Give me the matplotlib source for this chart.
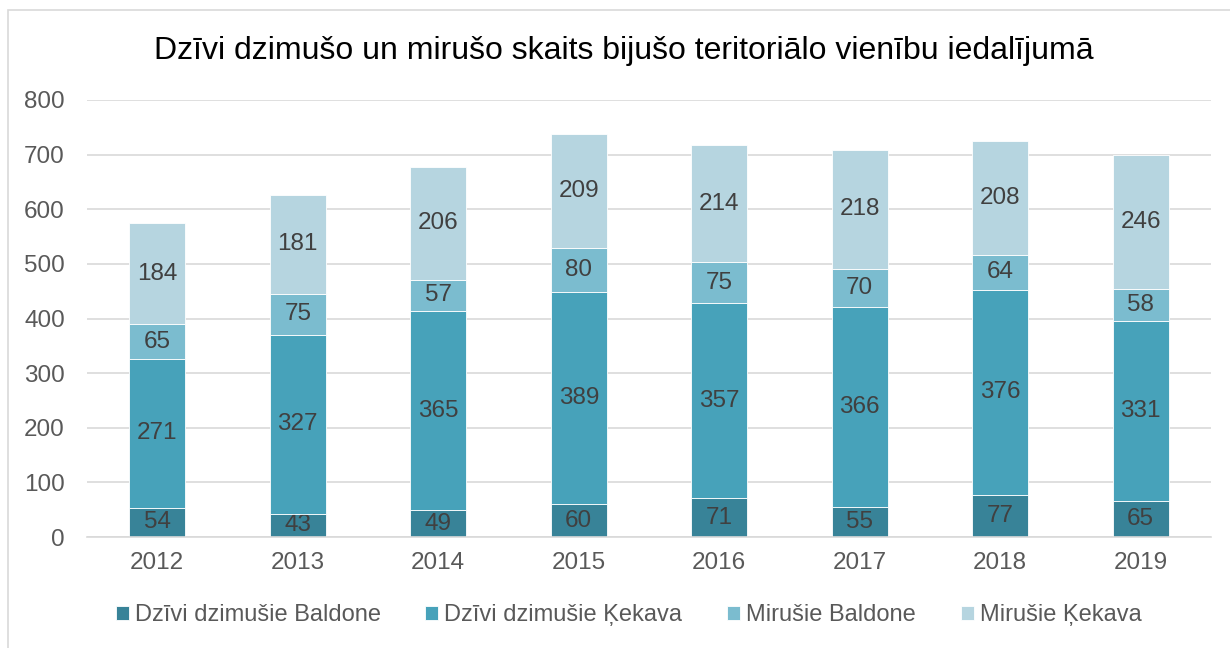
import matplotlib
matplotlib.use("Agg")
import matplotlib.pyplot as plt
from matplotlib.patches import Rectangle
import numpy as np

plt.rcParams['font.family'] = ['Liberation Sans', 'DejaVu Sans']

years = ["2012", "2013", "2014", "2015", "2016", "2017", "2018", "2019"]
births_baldone = [54, 43, 49, 60, 71, 55, 77, 65]
births_kekava = [271, 327, 365, 389, 357, 366, 376, 331]
deaths_baldone = [65, 75, 57, 80, 75, 70, 64, 58]
deaths_kekava = [184, 181, 206, 209, 214, 218, 208, 246]
series_names = ["Dzīvi dzimušie Baldone", "Dzīvi dzimušie Ķekava",
                "Mirušie Baldone", "Mirušie Ķekava"]
colors = ["#388398", "#47A2BA", "#7BBCCF", "#B6D5E0"]
title = "Dzīvi dzimušo un mirušo skaits bijušo teritoriālo vienību iedalījumā"

fig = plt.figure(figsize=(12.3, 6.48), dpi=100)
fig.patches.append(Rectangle((8/1230, -0.1), 1.2, 1 - 10/648 + 0.1,
                             transform=fig.transFigure, fill=False,
                             edgecolor="#D9D9D9", lw=1.2))
ax = fig.add_axes([87/1230, 1 - 537/648, (1211-87)/1230, (537-100)/648])

x = np.arange(len(years))
bottom = np.zeros(len(years))
handles = []
for name, vals, c in zip(series_names,
                         [births_baldone, births_kekava, deaths_baldone, deaths_kekava],
                         colors):
    bars = ax.bar(x, vals, 0.4, bottom=bottom, color=c, label=name,
                  edgecolor="white", linewidth=0.6, zorder=3)
    ax.bar_label(bars, labels=[str(v) for v in vals], label_type="center",
                 fontsize=17.5, color="#404040")
    handles.append(bars)
    bottom = bottom + np.array(vals)

ax.set_xlim(-0.5, len(years) - 0.5)
ax.set_ylim(0, 800)
ax.set_yticks(np.arange(0, 801, 100))
ax.set_xticks(x)
ax.set_xticklabels(years)
ax.tick_params(axis="both", length=0, labelsize=17.5, labelcolor="#595959")
ax.tick_params(axis="y", pad=16)
ax.tick_params(axis="x", pad=11)
ax.yaxis.grid(True, color="#D9D9D9", lw=1.2, zorder=0)
for s in ["top", "right", "left"]:
    ax.spines[s].set_visible(False)
ax.spines["bottom"].set_color("#D9D9D9")
ax.spines["bottom"].set_linewidth(1.2)
ax.spines["bottom"].set_zorder(4)

fig.text(624/1230, 1 - 51/648, title, ha="center", va="center", fontsize=23, color="#000000")

leg = fig.legend(handles=handles, labels=series_names, loc="center",
                 bbox_to_anchor=(0.511, 1 - 615/648), ncol=4, frameon=False,
                 fontsize=17, handlelength=0.55, handleheight=0.55,
                 handletextpad=0.25, columnspacing=1.9)
for t in leg.get_texts():
    t.set_color("#595959")

fig.savefig("out.png", dpi=100)
